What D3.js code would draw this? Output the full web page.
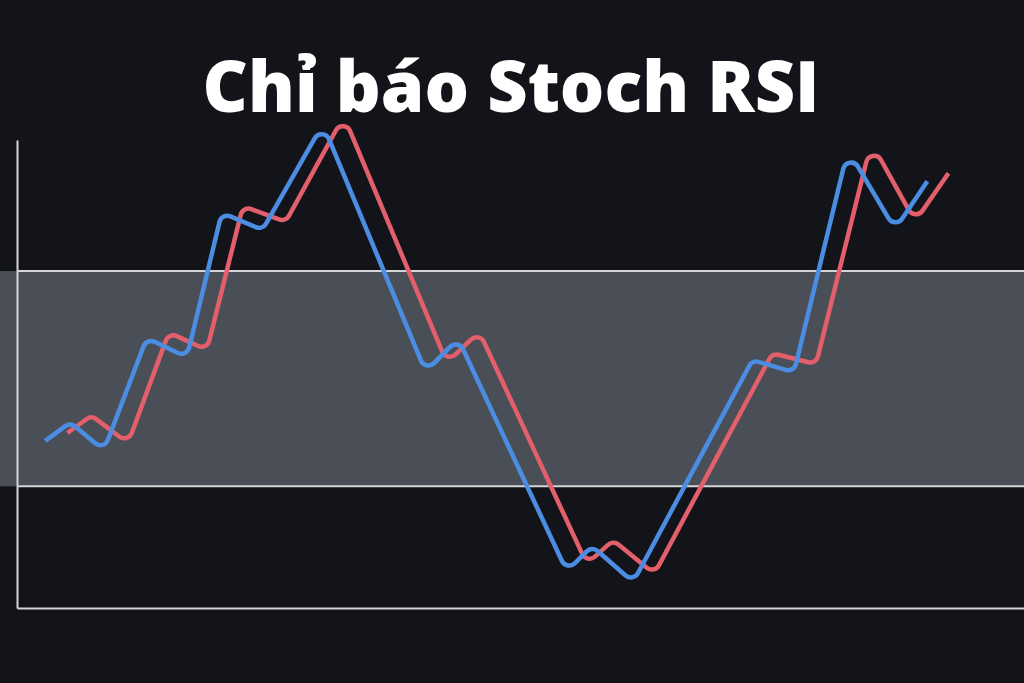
<!DOCTYPE html>
<html>
<head>
<meta charset="utf-8">
<script src="https://cdn.jsdelivr.net/npm/d3@7"></script>
<style>
  html, body { margin: 0; padding: 0; background: #131419; }
  svg { display: block; }
</style>
</head>
<body>
<svg id="chart" width="1024" height="683"></svg>
<script>
// ---- data (illustrative Stoch RSI, x = time units 0..100, y = indicator value) ----
const titleText = "Chỉ báo Stoch RSI";
const bandUpper = 72;
const bandLower = 26;

const kX = [2.8, 5.3, 8.5, 13.0, 16.7, 20.5, 24.3, 30.3, 40.7, 43.7, 54.7, 57.1, 61.1, 73.1, 77.0, 82.7, 87.2, 90.4];
const kY = [35.7, 39.3, 34.6, 57.1, 54.3, 83.8, 81.2, 101.5, 51.5, 56.6, 8.8, 12.8, 6.4, 52.6, 50.9, 95.7, 82.1, 91.2];

const dX = [5.0, 7.4, 10.9, 15.2, 18.7, 22.6, 26.6, 32.4, 42.8, 45.8, 56.7, 59.2, 63.2, 75.1, 79.2, 85.0, 89.2, 92.5];
const dY = [37.4, 40.8, 36.1, 58.3, 55.8, 85.3, 82.9, 103.2, 53.4, 58.1, 10.3, 14.1, 8.1, 54.1, 52.6, 97.2, 83.8, 92.9];

// ---- layout ----
const W = 1024, H = 683;
const plotLeft = 17, plotRight = 1024, plotTop = 140, plotBottom = 608;

const svg = d3.select("#chart");
const x = d3.scaleLinear().domain([0, 100]).range([plotLeft, plotRight]);
const y = d3.scaleLinear().domain([0, 100]).range([plotBottom, plotTop]);

// custom d3 curve: straight segments with rounded corners whose arc passes through each point
function RoundedCorner(context) { this._context = context; }
RoundedCorner.prototype = {
  areaStart() {}, areaEnd() {},
  lineStart() { this._pts = []; },
  point(px, py) { this._pts.push([+px, +py]); },
  lineEnd() {
    const p = this._pts, c = this._context, R = 8;
    if (!p.length) return;
    // virtual corners pushed outward so the arc apex lands on the data point
    const v = p.map((b, i) => {
      if (i === 0 || i === p.length - 1) return { pt: b, r: 0 };
      const a = p[i - 1], n = p[i + 1];
      const d1 = [a[0] - b[0], a[1] - b[1]], d2 = [n[0] - b[0], n[1] - b[1]];
      const l1 = Math.hypot(d1[0], d1[1]), l2 = Math.hypot(d2[0], d2[1]);
      const u1 = [d1[0] / l1, d1[1] / l1], u2 = [d2[0] / l2, d2[1] / l2];
      const cos = u1[0] * u2[0] + u1[1] * u2[1];
      const ang = Math.acos(Math.max(-1, Math.min(1, cos)));
      const t = Math.tan(ang / 2);
      let r = R;
      const maxT = 0.4 * Math.min(l1, l2);
      if (t > 1e-6 && r / t > maxT) r = maxT * t;
      const bis = [u1[0] + u2[0], u1[1] + u2[1]];
      const bl = Math.hypot(bis[0], bis[1]);
      if (bl < 1e-6) return { pt: b, r: 0 };
      const off = r * (1 / Math.sin(ang / 2) - 1);
      return { pt: [b[0] - bis[0] / bl * off, b[1] - bis[1] / bl * off], r };
    });
    c.moveTo(v[0].pt[0], v[0].pt[1]);
    for (let i = 1; i < v.length - 1; i++) {
      c.arcTo(v[i].pt[0], v[i].pt[1], v[i + 1].pt[0], v[i + 1].pt[1], v[i].r);
    }
    const last = v[v.length - 1].pt;
    c.lineTo(last[0], last[1]);
  }
};
const curveRounded = ctx => new RoundedCorner(ctx);

// background
svg.append("rect").attr("width", W).attr("height", H).attr("fill", "#131419");

// band fill (full width)
svg.append("rect")
  .attr("x", 0).attr("width", W)
  .attr("y", y(bandUpper)).attr("height", y(bandLower) - y(bandUpper))
  .attr("fill", "#4a4f57");

// band lines
[bandUpper, bandLower].forEach(v => {
  svg.append("line")
    .attr("x1", plotLeft).attr("x2", W)
    .attr("y1", y(v)).attr("y2", y(v))
    .attr("stroke", "#d4d5d8").attr("stroke-width", 2);
});

// axes (frame)
const yAxis = d3.axisLeft(y).tickValues([]).tickSizeOuter(0);
const xAxis = d3.axisBottom(x).tickValues([]).tickSizeOuter(0);
const gy = svg.append("g").attr("transform", `translate(${plotLeft},0)`).call(yAxis);
const gx = svg.append("g").attr("transform", `translate(0,${plotBottom})`).call(xAxis);
[gx, gy].forEach(g => g.select(".domain").attr("stroke", "#d4d5d8").attr("stroke-width", 2));

// lines
const line = d3.line().x(d => x(d[0])).y(d => y(d[1])).curve(curveRounded);
const kData = kX.map((v, i) => [v, kY[i]]);
const dData = dX.map((v, i) => [v, dY[i]]);

svg.append("path").datum(dData)
  .attr("d", line)
  .attr("fill", "none").attr("stroke", "#e35f6b").attr("stroke-width", 4.5)
  .attr("stroke-linejoin", "round").attr("stroke-linecap", "butt");

svg.append("path").datum(kData)
  .attr("d", line)
  .attr("fill", "none").attr("stroke", "#4b8de2").attr("stroke-width", 4.5)
  .attr("stroke-linejoin", "round").attr("stroke-linecap", "butt");

// title
svg.append("text")
  .attr("x", 511).attr("y", 112)
  .attr("text-anchor", "middle")
  .attr("font-family", "'Open Sans', sans-serif")
  .attr("font-weight", 800)
  .attr("font-size", 70)
  .attr("fill", "#ffffff")
  .text(titleText);
</script>
</body>
</html>
